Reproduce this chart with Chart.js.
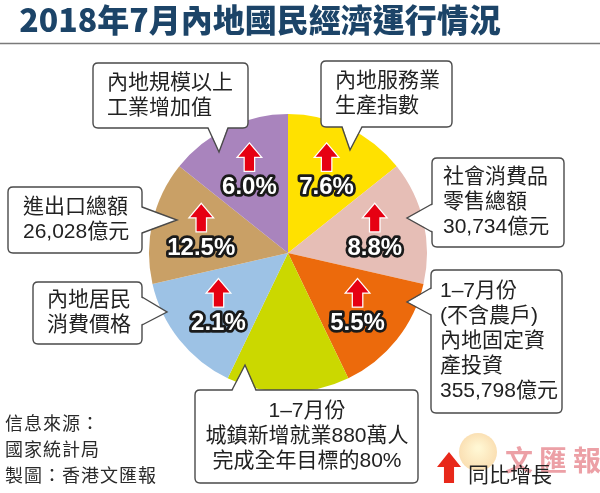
<!DOCTYPE html>
<html>
<head>
<meta charset="utf-8">
<script src="https://cdn.jsdelivr.net/npm/chart.js@4.4.0/dist/chart.umd.min.js"></script>
<style>
  body { margin: 0; background: #fff; }
  #wrap { width: 600px; height: 493px; }
</style>
</head>
<body>
<div id="wrap"><canvas id="econChart" width="600" height="493"></canvas></div>
<script>
// slices go clockwise from 12 o'clock
var categories = ['內地服務業生產指數', '社會消費品零售總額', '內地固定資產投資', '城鎮新增就業', '內地居民消費價格', '進出口總額', '內地規模以上工業增加值'];
var sliceShare = [1, 1, 1, 1, 1, 1, 1];        // all slices drawn the same size
var growth = [7.6, 8.8, 5.5, null, 2.1, 12.5, 6.0]; // 同比增長 %
var sliceColors = ['#FFE100', '#E6BEB6', '#EC6A0C', '#CBD800', '#9DC2E5', '#C9A066', '#A984BD'];

// callout text, same order as categories
var calloutLines = [
    ['內地服務業', '生產指數'],
    ['社會消費品', '零售總額', '30,734億元'],
    ['1–7月份', '(不含農戶)', '內地固定資', '產投資', '355,798億元'],
    ['1–7月份', '城鎮新增就業880萬人', '完成全年目標的80%'],
    ['內地居民', '消費價格'],
    ['進出口總額', '26,028億元'],
    ['內地規模以上', '工業增加值']
];

var CJK = '"Noto Sans CJK TC", "Noto Sans CJK SC", sans-serif';
var BOXFONT = '21px "Liberation Sans", ' + CJK;

// box rect + tail (base points on one edge, tip)
var callouts = [
    { x: 321, y: 61, w: 131, h: 66, tx: 335, tail: [[342, 127], [362, 127], [350, 150]] },
    { x: 432, y: 158, w: 132, h: 89, tx: 443, tail: [[432, 204], [432, 232], [407, 218]] },
    { x: 431, y: 270, w: 131, h: 143, tx: 440, tail: [[431, 288], [431, 315], [407, 302]] },
    { x: 195, y: 390, w: 223, h: 93, tx: 307, center: true, tail: [[232, 390], [256, 390], [245, 365]] },
    { x: 33, y: 282, w: 109, h: 62, tx: 47, tail: [[142, 297], [142, 325], [167, 312]] },
    { x: 8, y: 187, w: 134, h: 66, tx: 23, tail: [[142, 207], [142, 233], [177, 220]] },
    { x: 93, y: 63, w: 155, h: 65, tx: 107, tail: [[208, 128], [228, 128], [219, 152]] }
];

function roundRect(ctx, x, y, w, h, r) {
    ctx.beginPath();
    ctx.moveTo(x + r, y);
    ctx.lineTo(x + w - r, y);
    ctx.quadraticCurveTo(x + w, y, x + w, y + r);
    ctx.lineTo(x + w, y + h - r);
    ctx.quadraticCurveTo(x + w, y + h, x + w - r, y + h);
    ctx.lineTo(x + r, y + h);
    ctx.quadraticCurveTo(x, y + h, x, y + h - r);
    ctx.lineTo(x, y + r);
    ctx.quadraticCurveTo(x, y, x + r, y);
    ctx.closePath();
}

function drawCallout(ctx, c, lines) {
    ctx.save();
    roundRect(ctx, c.x, c.y, c.w, c.h, 5);
    ctx.fillStyle = '#fff';
    ctx.fill();
    ctx.strokeStyle = '#4a4a4a';
    ctx.lineWidth = 1.4;
    ctx.stroke();
    // tail: cover the border between the base points, then outline two sides
    var a = c.tail[0], b = c.tail[1], t = c.tail[2];
    var mx = (a[0] + b[0]) / 2, my = (a[1] + b[1]) / 2;
    var ix = (mx - t[0]), iy = (my - t[1]);
    var len = Math.sqrt(ix * ix + iy * iy);
    ix = ix / len * 2; iy = iy / len * 2;
    ctx.beginPath();
    ctx.moveTo(a[0] + ix, a[1] + iy);
    ctx.lineTo(t[0], t[1]);
    ctx.lineTo(b[0] + ix, b[1] + iy);
    ctx.closePath();
    ctx.fill();
    ctx.beginPath();
    ctx.moveTo(a[0], a[1]);
    ctx.lineTo(t[0], t[1]);
    ctx.lineTo(b[0], b[1]);
    ctx.stroke();

    ctx.fillStyle = '#222';
    ctx.font = BOXFONT;
    ctx.textBaseline = 'middle';
    ctx.textAlign = c.center ? 'center' : 'left';
    var n = lines.length;
    var gap = 25;
    var top = c.y + c.h / 2 - (n - 1) * gap / 2;
    for (var i = 0; i < n; i++) {
        ctx.fillText(lines[i], c.tx, top + i * gap);
    }
    ctx.restore();
}

function drawUpArrow(ctx, cx, top, w, h, color) {
    var headH = h * 0.48, shaftW = w * 0.42;
    ctx.beginPath();
    ctx.moveTo(cx, top);
    ctx.lineTo(cx + w / 2, top + headH);
    ctx.lineTo(cx + shaftW / 2, top + headH);
    ctx.lineTo(cx + shaftW / 2, top + h);
    ctx.lineTo(cx - shaftW / 2, top + h);
    ctx.lineTo(cx - shaftW / 2, top + headH);
    ctx.lineTo(cx - w / 2, top + headH);
    ctx.closePath();
    ctx.lineJoin = 'miter';
    ctx.strokeStyle = '#fff';
    ctx.lineWidth = 2.5;
    ctx.stroke();
    ctx.fillStyle = color;
    ctx.fill();
}

var overlay = {
    id: 'overlay',
    beforeDraw: function(chart) {
        var ctx = chart.ctx;
        ctx.save();
        // title
        ctx.fillStyle = '#1C4468';
        ctx.font = '900 32px ' + CJK;
        ctx.textBaseline = 'middle';
        ctx.textAlign = 'center';
        ctx.fillText('2018年7月內地國民經濟運行情況', 260, 20);
        ctx.strokeStyle = '#7a7a7a';
        ctx.lineWidth = 1.5;
        ctx.beginPath();
        ctx.moveTo(0, 43.5);
        ctx.lineTo(600, 43.5);
        ctx.stroke();

        // watermark
        ctx.globalAlpha = 0.35;
        var g = ctx.createRadialGradient(478, 448, 2, 478, 452, 20);
        g.addColorStop(0, '#FFE680');
        g.addColorStop(1, '#F0A020');
        ctx.fillStyle = g;
        ctx.beginPath();
        ctx.arc(478, 452, 19, 0, Math.PI * 2);
        ctx.fill();
        ctx.globalAlpha = 0.6;
        ctx.fillStyle = '#E0606A';
        ctx.font = 'bold 28px ' + CJK;
        ctx.textAlign = 'left';
        ctx.letterSpacing = '6px';
        ctx.fillText('文匯報', 505, 460);
        ctx.letterSpacing = '0px';
        ctx.restore();
    },
    afterDatasetsDraw: function(chart) {
        var ctx = chart.ctx;
        var meta = chart.getDatasetMeta(0);
        ctx.save();
        meta.data.forEach(function(arc, i) {
            if (growth[i] === null) return;
            var mid = (arc.startAngle + arc.endAngle) / 2;
            var r = arc.outerRadius * 0.64;
            var x = arc.x + Math.cos(mid) * r;
            var y = arc.y + Math.sin(mid) * r;
            drawUpArrow(ctx, x, y - 29, 22, 27, '#E60012');
            ctx.font = 'bold 24px "Liberation Sans", Arial, sans-serif';
            ctx.textAlign = 'center';
            ctx.textBaseline = 'middle';
            ctx.lineJoin = 'round';
            ctx.strokeStyle = '#1a1a1a';
            ctx.lineWidth = 5.5;
            var label = growth[i].toFixed(1) + '%';
            ctx.strokeText(label, x, y + 15);
            ctx.fillStyle = '#fff';
            ctx.fillText(label, x, y + 15);
        });
        ctx.restore();
    },
    afterDraw: function(chart) {
        var ctx = chart.ctx;
        for (var i = 0; i < callouts.length; i++) {
            drawCallout(ctx, callouts[i], calloutLines[i]);
        }
        ctx.save();
        // source note
        ctx.fillStyle = '#2a2a2a';
        ctx.font = '18px ' + CJK;
        ctx.textBaseline = 'middle';
        ctx.textAlign = 'left';
        ctx.letterSpacing = '1px';
        ctx.fillText('信息來源：', 5, 423);
        ctx.fillText('國家統計局', 5, 449);
        ctx.fillText('製圖：香港文匯報', 5, 475);
        ctx.letterSpacing = '0px';
        // legend
        drawUpArrow(ctx, 449, 452, 24, 31, '#E8281A');
        ctx.fillStyle = '#222';
        ctx.font = '21px ' + CJK;
        ctx.fillText('同比增長', 468, 474);
        ctx.restore();
    }
};

document.addEventListener('DOMContentLoaded', function() {
    var ctx = document.getElementById('econChart').getContext('2d');
    var econChart = new Chart(ctx, {
        type: 'pie',
        data: {
            labels: categories,
            datasets: [{
                data: sliceShare,
                backgroundColor: sliceColors,
                borderWidth: 0
            }]
        },
        options: {
            responsive: false,
            animation: false,
            layout: {
                padding: { left: 149, right: 173, top: 114, bottom: 101 }
            },
            plugins: {
                legend: { display: false },
                tooltip: { enabled: false }
            }
        },
        plugins: [overlay]
    });
});
</script>
</body>
</html>
